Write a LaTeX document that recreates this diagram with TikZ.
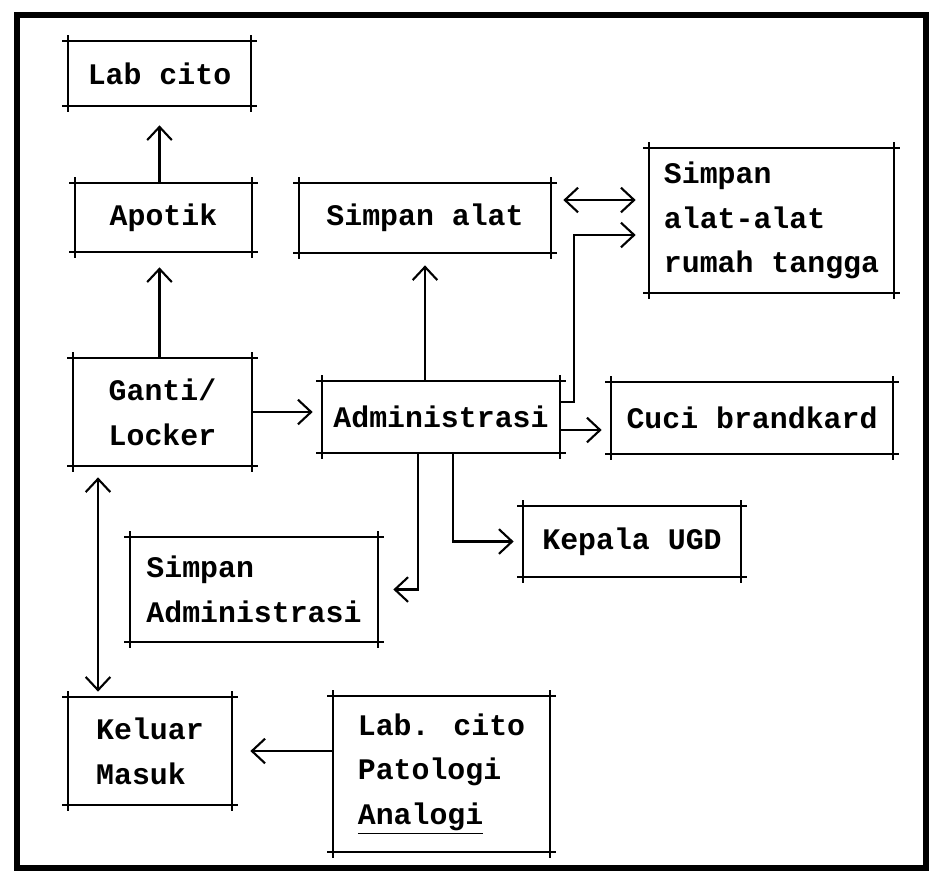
\documentclass[tikz,border=0pt]{standalone}
\usepackage{fontspec}
\newfontfamily\typefont{Liberation Mono}
\usepackage{tikz}
\usetikzlibrary{positioning,arrows.meta,calc}

\begin{document}
\begin{tikzpicture}[
    x=0.02cm, y=-0.02cm,
    font={\typefont\bfseries\fontsize{17pt}{25.5pt}\selectfont},
    op/.style={-{Straight Barb[length=7.5pt, width=14pt]}, line width=1.2pt},
    dbl/.style={{Straight Barb[length=7.5pt, width=14pt]}-{Straight Barb[length=7.5pt, width=14pt]},
                line width=1.2pt},
    room/.style={inner sep=2pt, align=left},
    edge/.style={line width=1.2pt},
  ]
  \useasboundingbox (0,0) rectangle (936,880);
  % frame
  \draw[line width=3.2pt] (17,15) rectangle (926,868);

  % rooms
  \node[room, minimum width=3.66cm, minimum height=1.30cm] (labcito) at (159.5,73.5) {Lab cito};
  \node[room, minimum width=3.54cm, minimum height=1.38cm] (apotik) at (163.5,217.5) {Apotik};
  \node[room, minimum width=5.04cm, minimum height=1.40cm] (simpanalat) at (425,218) {Simpan alat};
  \node[room, minimum width=4.90cm, minimum height=2.90cm] (rumah) at (771.5,220.5)
    {Simpan\\alat-alat\\rumah tangga};
  \node[room, minimum width=3.58cm, minimum height=2.16cm] (ganti) at (162.5,412) {Ganti/\\Locker};
  \node[room, minimum width=4.76cm, minimum height=1.44cm] (admin) at (441,417) {Administrasi};
  \node[room, minimum width=5.64cm, minimum height=1.44cm] (cuci) at (752,418) {Cuci brandkard};
  \node[room, minimum width=4.36cm, minimum height=1.42cm] (kepala) at (632,541.5) {Kepala UGD};
  \node[room, minimum width=4.96cm, minimum height=2.10cm] (simpanadm) at (254,589.5)
    {Simpan\\Administrasi};
  \node[room, minimum width=3.28cm, minimum height=2.16cm] (keluar) at (150,751) {Keluar\\Masuk};
  \node[room, minimum width=4.34cm, minimum height=3.12cm] (patologi) at (441.5,774)
    {Lab. cito\\Patologi\\\underline{Analogi}};

  % box edges, drawn a little past the corners
  \foreach \bx in {labcito,apotik,simpanalat,rumah,ganti,admin,cuci,kepala,simpanadm,keluar,patologi} {
    \draw[edge] ([xshift=-3pt]\bx.north west) -- ([xshift=3pt]\bx.north east);
    \draw[edge] ([xshift=-3pt]\bx.south west) -- ([xshift=3pt]\bx.south east);
    \draw[edge] ([yshift=3pt]\bx.north west) -- ([yshift=-3pt]\bx.south west);
    \draw[edge] ([yshift=3pt]\bx.north east) -- ([yshift=-3pt]\bx.south east);
  }

  % connectors
  \draw[op, shorten >=0.38cm] (apotik.north -| labcito.south) -- (labcito.south);
  \draw[op, shorten >=0.30cm] (ganti.north -| labcito.south) -- (apotik.south -| labcito.south);
  \draw[op, shorten >=0.24cm] (admin.north -| simpanalat.south) -- (simpanalat.south);
  \draw[op, shorten >=0.18cm] (ganti.east) -- (ganti.east -| admin.west);
  \draw[dbl, shorten <=0.24cm, shorten >=0.26cm]
    ([yshift=0.36cm]simpanalat.east) -- ([yshift=0.36cm]simpanalat.east -| rumah.west);
  \draw[op, shorten >=0.26cm]
    ([yshift=0.30cm]admin.east) -- ++(0.28cm,0) |- ([yshift=-0.29cm]rumah.west);
  \draw[op, shorten >=0.18cm] ([yshift=-0.26cm]admin.east) -- ([yshift=-0.26cm]admin.east -| cuci.west);
  \draw[op, shorten >=0.18cm] ([xshift=0.24cm]admin.south) |- (kepala.west);
  \draw[op, shorten >=0.30cm] ([xshift=-0.46cm]admin.south) |- (simpanadm.east);
  \draw[dbl, shorten <=0.22cm, shorten >=0.10cm]
    ([xshift=-1.29cm]ganti.south) -- ([xshift=-1.29cm]ganti.south |- keluar.north);
  \draw[op, shorten >=0.36cm] (patologi.west |- keluar.east) -- (keluar.east);
\end{tikzpicture}
\end{document}
